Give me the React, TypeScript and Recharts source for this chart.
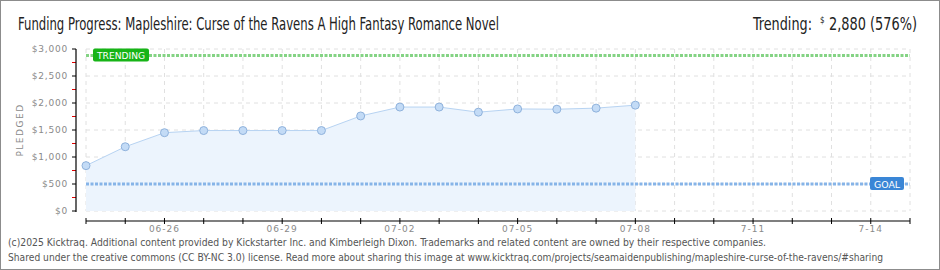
import { ComposedChart, Area, XAxis, YAxis, CartesianGrid, ReferenceLine } from 'recharts';

// daily pledged totals
const dates = ['06-24', '06-25', '06-26', '06-27', '06-28', '06-29', '06-30', '07-01', '07-02', '07-03', '07-04', '07-05', '07-06', '07-07', '07-08'];
const pledged = [840, 1190, 1450, 1490, 1490, 1490, 1490, 1760, 1925, 1925, 1830, 1890, 1885, 1905, 1960];

// x axis runs through the end of the campaign
const tickLabels = ['', '', '06-26', '', '', '06-29', '', '', '07-02', '', '', '07-05', '', '', '07-08', '', '', '7-11', '', '', '7-14', ''];
const yTicks = [0, 250, 500, 750, 1000, 1250, 1500, 1750, 2000, 2250, 2500, 2750, 3000];
const yGrid = [0, 500, 1000, 1500, 2000, 2500, 3000];

const trending = 2880;
const goal = 500;

const data = dates.map((d, i) => ({ day: i, date: d, pledged: pledged[i] }));
const dayTicks = tickLabels.map((_, i) => i);

const AXIS_X = 76;
const PLOT_TOP = 49;
const ZERO_Y = 211;
const tickFont = '"DejaVu Sans", sans-serif';
const titleFont = '"Liberation Sans Narrow", "DejaVu Sans Condensed", sans-serif';

const fmtMoney = (v: number) => '$' + v.toLocaleString('en-US');

function YTick(props: any) {
  const { y, payload } = props;
  const v = payload.value;
  const major = v % 500 === 0;
  return (
    <g>
      {v === 3000 && <line x1={AXIS_X} x2={AXIS_X} y1={y} y2={ZERO_Y + 1} stroke="#000" strokeWidth={1.2} />}
      <line x1={AXIS_X - 4} x2={AXIS_X} y1={y} y2={y} stroke={major ? '#000' : '#e00000'} strokeWidth={1} />
      {major && (
        <text x={68} y={y} dy="0.35em" textAnchor="end" fontSize={9} letterSpacing={0.8} fill="#8a8a8a" fontFamily={tickFont}>
          {fmtMoney(v)}
        </text>
      )}
    </g>
  );
}

function XTick(props: any) {
  const { x, y, payload } = props;
  const label = tickLabels[payload.value];
  return (
    <g>
      <line x1={x} x2={x} y1={y - 3} y2={y + 3} stroke="#000" strokeWidth={1} />
      {label && (
        <text x={x} y={y + 11} textAnchor="middle" fontSize={9} letterSpacing={1} fill="#8a8a8a" fontFamily={tickFont}>
          {label}
        </text>
      )}
    </g>
  );
}

function Tag(props: any) {
  const { viewBox, text, color, side, w } = props;
  const vx = viewBox?.x ?? 0;
  const vy = viewBox?.y ?? 0;
  const vw = viewBox?.width ?? 0;
  const left = side === 'left' ? vx + 7 : vx + vw - 6 - w;
  return (
    <g>
      <rect x={left} y={vy - 7} width={w} height={13} rx={2} fill={color} />
      <text x={left + 4} y={vy + 3.5} fontSize={9.5} fill="#fff" fontFamily={tickFont} textLength={w - 8} lengthAdjust="spacingAndGlyphs">
        {text}
      </text>
    </g>
  );
}

// squeezed header text: scale down horizontally, then pin the width
function NarrowText(props: any) {
  const { x, y, width, scale, size, children } = props;
  return (
    <text
      transform={`translate(${x} ${y}) scale(${scale} 1)`}
      fontSize={size}
      fill="#222"
      fontFamily={titleFont}
      textLength={width / scale}
      lengthAdjust="spacingAndGlyphs"
    >
      {children}
    </text>
  );
}

export default function App() {
  return (
    <div style={{ position: 'absolute', left: 0, top: 0, width: 940, height: 270, background: '#fff' }}>
      <ComposedChart width={940} height={270} data={data} margin={{ top: PLOT_TOP, right: 30, bottom: 0, left: 0 }}>
        <CartesianGrid stroke="#e0e0e0" strokeDasharray="4 4" horizontalValues={yGrid} y={PLOT_TOP} height={ZERO_Y - PLOT_TOP} />
        <XAxis
          dataKey="day"
          type="number"
          domain={[0, 21]}
          ticks={dayTicks}
          interval={0}
          height={49}
          tickSize={0}
          tickMargin={0}
          tickLine={false}
          axisLine={{ stroke: '#000', strokeWidth: 1.2 }}
          tick={<XTick />}
        />
        <YAxis
          domain={[0, 3000]}
          ticks={yTicks}
          interval={0}
          width={86}
          padding={{ top: 0, bottom: 10 }}
          axisLine={false}
          tickLine={false}
          tickSize={0}
          tick={<YTick />}
        />
        <Area
          type="linear"
          dataKey="pledged"
          baseValue={0}
          stroke="#b7d3f2"
          strokeWidth={1}
          fill="#ecf4fd"
          fillOpacity={1}
          dot={{ r: 4, fill: '#c3dbf6', stroke: '#8fb2dc', strokeWidth: 1 }}
          isAnimationActive={false}
        />
        <ReferenceLine
          y={trending}
          stroke="#84d384"
          strokeWidth={3}
          strokeDasharray="3 1.5"
          label={<Tag text="TRENDING" color="#17b417" side="left" w={56} />}
        />
        <ReferenceLine
          y={goal}
          stroke="#86b4e8"
          strokeWidth={3}
          strokeDasharray="3 1.5"
          label={<Tag text="GOAL" color="#3a86d6" side="right" w={34} />}
        />
      </ComposedChart>
      <svg width={940} height={270} style={{ position: 'absolute', left: 0, top: 0, pointerEvents: 'none' }}>
        <rect x={0.5} y={0.5} width={939} height={269} fill="none" stroke="#8c8c8c" />
        <NarrowText x={18} y={30} width={481} scale={0.75} size={17}>
          Funding Progress: Mapleshire: Curse of the Ravens A High Fantasy Romance Novel
        </NarrowText>
        <NarrowText x={753} y={30} width={59} scale={0.8} size={17}>
          Trending:
        </NarrowText>
        <text x={820} y={23} fontSize={8} fill="#222" fontFamily={titleFont}>
          $
        </text>
        <NarrowText x={829} y={30} width={88} scale={0.84} size={17}>
          2,880 (576%)
        </NarrowText>
        <text x={20} y={130} transform="rotate(-90 20 130)" textAnchor="middle" dy="0.35em" fontSize={9} letterSpacing={1.5} fill="#8a8a8a" fontFamily={tickFont}>
          PLEDGED
        </text>
        <text x={8} y={246} fontSize={10} fill="#555" fontFamily='"DejaVu Sans Condensed", sans-serif' textLength={758} lengthAdjust="spacingAndGlyphs">
          (c)2025 Kicktraq. Additional content provided by Kickstarter Inc. and Kimberleigh Dixon. Trademarks and related content are owned by their respective companies.
        </text>
        <text x={8} y={261} fontSize={10} fill="#555" fontFamily='"DejaVu Sans Condensed", sans-serif' textLength={875} lengthAdjust="spacingAndGlyphs">
          Shared under the creative commons (CC BY-NC 3.0) license. Read more about sharing this image at www.kicktraq.com/projects/seamaidenpublishing/mapleshire-curse-of-the-ravens/#sharing
        </text>
      </svg>
    </div>
  );
}
